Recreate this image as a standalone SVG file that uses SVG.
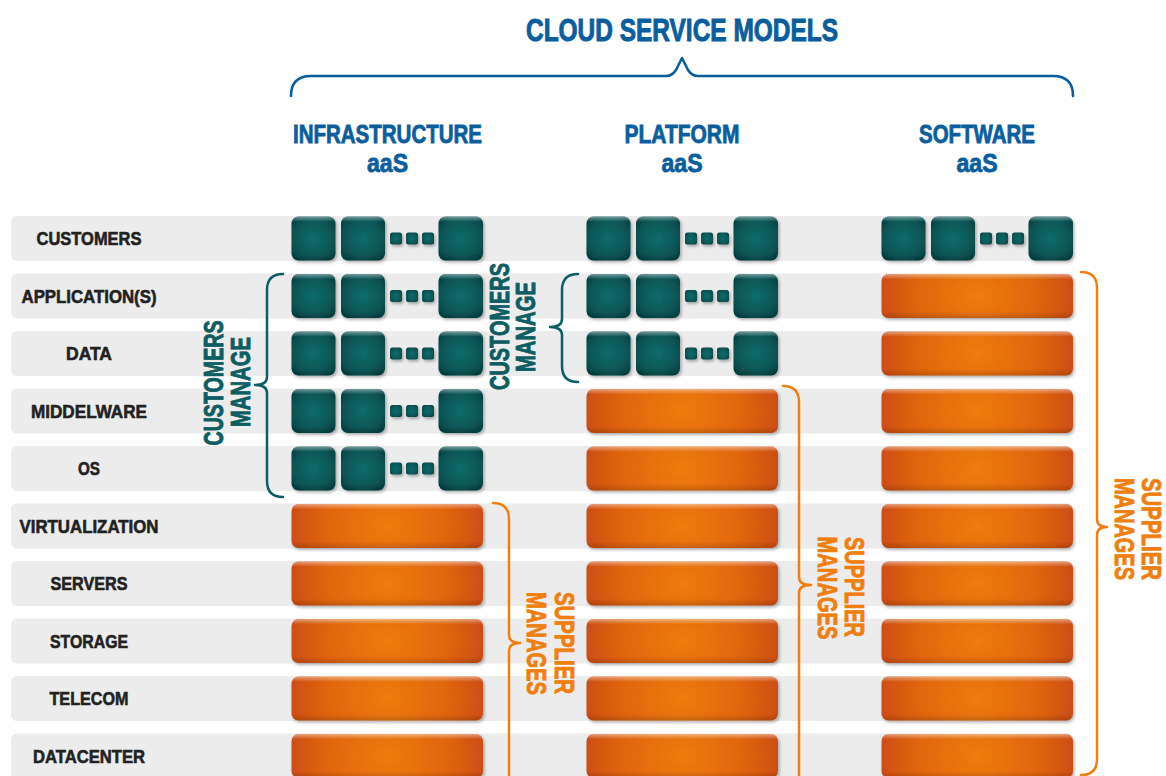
<svg xmlns="http://www.w3.org/2000/svg" xmlns:xlink="http://www.w3.org/1999/xlink" width="1166" height="776" viewBox="0 0 1166 776">
<style>
.band{fill:#ececec}
.lbl{font-family:"Liberation Sans",Arial,sans-serif;font-weight:bold;font-size:19px;fill:#222;stroke:#222;stroke-width:0.6;text-anchor:middle}
.hdr{font-family:"Liberation Sans",Arial,sans-serif;font-weight:bold;font-size:25px;fill:#0b5e9e;stroke:#0b5e9e;stroke-width:0.8;text-anchor:middle}
.title{font-family:"Liberation Sans",Arial,sans-serif;font-weight:bold;font-size:32px;fill:#0b5e9e;stroke:#0b5e9e;stroke-width:1;text-anchor:middle}
.tealtxt{font-family:"Liberation Sans",Arial,sans-serif;font-weight:bold;font-size:27px;fill:#0d5d63;stroke:#0d5d63;stroke-width:0.9;text-anchor:middle}
.orgtxt{font-family:"Liberation Sans",Arial,sans-serif;font-weight:bold;font-size:27px;fill:#f07f0f;stroke:#f07f0f;stroke-width:0.9;text-anchor:middle}
.bTeal{fill:none;stroke:#0d5d63;stroke-width:2.5;stroke-linejoin:round;stroke-linecap:round}
.bOrg{fill:none;stroke:#f07f0f;stroke-width:2.5;stroke-linejoin:round;stroke-linecap:round}
.bBlue{fill:none;stroke:#0b5e9e;stroke-width:2.6;stroke-linejoin:round;stroke-linecap:round}
</style>
<defs>
<radialGradient id="gTeal" cx="50%" cy="50%" r="60%">
<stop offset="0" stop-color="#0f6b6a"/>
<stop offset="0.7" stop-color="#0a5656"/>
<stop offset="1" stop-color="#054444"/>
</radialGradient>
<radialGradient id="gOrg" cx="50%" cy="50%" r="55%" gradientTransform="translate(0.5,0.5) scale(1,3.5) translate(-0.5,-0.5)">
<stop offset="0" stop-color="#ef7c0a"/>
<stop offset="0.6" stop-color="#e0640f"/>
<stop offset="1" stop-color="#c84814"/>
</radialGradient>
<linearGradient id="gHi" x1="0" y1="0" x2="0" y2="1">
<stop offset="0" stop-color="#fff" stop-opacity="0.45"/>
<stop offset="0.12" stop-color="#fff" stop-opacity="0"/>
<stop offset="0.85" stop-color="#000" stop-opacity="0"/>
<stop offset="1" stop-color="#000" stop-opacity="0.15"/>
</linearGradient>
<filter id="sh" x="-10%" y="-10%" width="130%" height="140%">
<feDropShadow dx="1.5" dy="2" stdDeviation="1.5" flood-color="#000" flood-opacity="0.3"/>
</filter>
<g id="tealCell" filter="url(#sh)">
<rect x="0.5" y="0.5" width="44" height="44" rx="7" fill="url(#gTeal)"/>
<rect x="0.5" y="0.5" width="44" height="44" rx="7" fill="url(#gHi)"/>
<rect x="50" y="0.5" width="44" height="44" rx="7" fill="url(#gTeal)"/>
<rect x="50" y="0.5" width="44" height="44" rx="7" fill="url(#gHi)"/>
<rect x="99" y="16.5" width="12" height="12" rx="2.5" fill="url(#gTeal)"/>
<rect x="115" y="16.5" width="12" height="12" rx="2.5" fill="url(#gTeal)"/>
<rect x="131" y="16.5" width="12" height="12" rx="2.5" fill="url(#gTeal)"/>
<rect x="147.5" y="0.5" width="44.5" height="44" rx="7" fill="url(#gTeal)"/>
<rect x="147.5" y="0.5" width="44.5" height="44" rx="7" fill="url(#gHi)"/>
</g>
<g id="orgCell" filter="url(#sh)">
<rect x="0.5" y="0.5" width="191.5" height="44" rx="7" fill="url(#gOrg)"/>
<rect x="0.5" y="0.5" width="191.5" height="44" rx="7" fill="url(#gHi)"/>
</g>
</defs>
<rect width="1166" height="776" fill="#fff"/>

<g id="title">
<text class="title" x="682" y="41" textLength="312" lengthAdjust="spacingAndGlyphs">CLOUD SERVICE MODELS</text>
</g>

<g id="bands">
<rect class="band" x="11" y="216" width="1062" height="45" rx="6"/>
<rect class="band" x="11" y="273.5" width="1062" height="45" rx="6"/>
<rect class="band" x="11" y="331" width="1062" height="45" rx="6"/>
<rect class="band" x="11" y="388.5" width="1062" height="45" rx="6"/>
<rect class="band" x="11" y="446" width="1062" height="45" rx="6"/>
<rect class="band" x="11" y="503.5" width="1062" height="45" rx="6"/>
<rect class="band" x="11" y="561" width="1062" height="45" rx="6"/>
<rect class="band" x="11" y="618.5" width="1062" height="45" rx="6"/>
<rect class="band" x="11" y="676" width="1062" height="45" rx="6"/>
<rect class="band" x="11" y="733.5" width="1062" height="45" rx="6"/>
</g>

<g id="row-labels">
<text class="lbl" x="89" y="245" textLength="105" lengthAdjust="spacingAndGlyphs">CUSTOMERS</text>
<text class="lbl" x="89" y="302.5" textLength="135" lengthAdjust="spacingAndGlyphs">APPLICATION(S)</text>
<text class="lbl" x="89" y="360" textLength="46" lengthAdjust="spacingAndGlyphs">DATA</text>
<text class="lbl" x="89" y="417.5" textLength="116" lengthAdjust="spacingAndGlyphs">MIDDELWARE</text>
<text class="lbl" x="89" y="475" textLength="22" lengthAdjust="spacingAndGlyphs">OS</text>
<text class="lbl" x="89" y="532.5" textLength="139" lengthAdjust="spacingAndGlyphs">VIRTUALIZATION</text>
<text class="lbl" x="89" y="590" textLength="77" lengthAdjust="spacingAndGlyphs">SERVERS</text>
<text class="lbl" x="89" y="647.5" textLength="78" lengthAdjust="spacingAndGlyphs">STORAGE</text>
<text class="lbl" x="89" y="705" textLength="79" lengthAdjust="spacingAndGlyphs">TELECOM</text>
<text class="lbl" x="89" y="762.5" textLength="112" lengthAdjust="spacingAndGlyphs">DATACENTER</text>
</g>

<g id="col-iaas">
<text class="hdr" x="387.5" y="143" textLength="189" lengthAdjust="spacingAndGlyphs">INFRASTRUCTURE</text>
<text class="hdr" x="387.5" y="172" textLength="41" lengthAdjust="spacingAndGlyphs">aaS</text>
<use href="#tealCell" x="291" y="216"/>
<use href="#tealCell" x="291" y="273.5"/>
<use href="#tealCell" x="291" y="331"/>
<use href="#tealCell" x="291" y="388.5"/>
<use href="#tealCell" x="291" y="446"/>
<use href="#orgCell" x="291" y="503.5"/>
<use href="#orgCell" x="291" y="561"/>
<use href="#orgCell" x="291" y="618.5"/>
<use href="#orgCell" x="291" y="676"/>
<use href="#orgCell" x="291" y="733.5"/>
</g>

<g id="col-paas">
<text class="hdr" x="682" y="143" textLength="115" lengthAdjust="spacingAndGlyphs">PLATFORM</text>
<text class="hdr" x="682" y="172" textLength="41" lengthAdjust="spacingAndGlyphs">aaS</text>
<use href="#tealCell" x="586" y="216"/>
<use href="#tealCell" x="586" y="273.5"/>
<use href="#tealCell" x="586" y="331"/>
<use href="#orgCell" x="586" y="388.5"/>
<use href="#orgCell" x="586" y="446"/>
<use href="#orgCell" x="586" y="503.5"/>
<use href="#orgCell" x="586" y="561"/>
<use href="#orgCell" x="586" y="618.5"/>
<use href="#orgCell" x="586" y="676"/>
<use href="#orgCell" x="586" y="733.5"/>
</g>

<g id="col-saas">
<text class="hdr" x="977" y="143" textLength="116" lengthAdjust="spacingAndGlyphs">SOFTWARE</text>
<text class="hdr" x="977" y="172" textLength="41" lengthAdjust="spacingAndGlyphs">aaS</text>
<use href="#tealCell" x="881" y="216"/>
<use href="#orgCell" x="881" y="273.5"/>
<use href="#orgCell" x="881" y="331"/>
<use href="#orgCell" x="881" y="388.5"/>
<use href="#orgCell" x="881" y="446"/>
<use href="#orgCell" x="881" y="503.5"/>
<use href="#orgCell" x="881" y="561"/>
<use href="#orgCell" x="881" y="618.5"/>
<use href="#orgCell" x="881" y="676"/>
<use href="#orgCell" x="881" y="733.5"/>
</g>

<g id="connectors">
<path class="bBlue" d="M291,96 Q291,76 311,76 L666,76 Q672,76 676,70 L682,58 L688,70 Q692,76 698,76 L1053,76 Q1073,76 1073,96"/>
<path class="bTeal" d="M283,274 Q267,274 267,290 L267,377 Q267,385 255,385 Q267,385 267,393 L267,481 Q267,497 283,497"/>
<path class="bTeal" d="M578,274 Q562,274 562,290 L562,319 Q562,327 550,327 Q562,327 562,335 L562,366 Q562,382 578,382"/>
<path class="bOrg" d="M493,503 Q509,503 509,519 L509,635 Q509,643 520,643 Q509,643 509,651 L509,790"/>
<path class="bOrg" d="M783,386 Q799,386 799,402 L799,577 Q799,585 811,585 Q799,585 799,593 L799,790"/>
<path class="bOrg" d="M1081,272 Q1097,272 1097,288 L1097,519 Q1097,527 1107,527 Q1097,527 1097,535 L1097,759 Q1097,775 1081,775"/>
</g>

<g id="label-iaas-customers">
<text class="tealtxt" transform="translate(223,383) rotate(-90)" textLength="125" lengthAdjust="spacingAndGlyphs">CUSTOMERS</text>
<text class="tealtxt" transform="translate(250,382) rotate(-90)" textLength="90" lengthAdjust="spacingAndGlyphs">MANAGE</text>
</g>
<g id="label-paas-customers">
<text class="tealtxt" transform="translate(509,326.5) rotate(-90)" textLength="127" lengthAdjust="spacingAndGlyphs">CUSTOMERS</text>
<text class="tealtxt" transform="translate(535,327) rotate(-90)" textLength="90" lengthAdjust="spacingAndGlyphs">MANAGE</text>
</g>
<g id="label-iaas-supplier">
<text class="orgtxt" transform="translate(555,643) rotate(90)" textLength="102" lengthAdjust="spacingAndGlyphs">SUPPLIER</text>
<text class="orgtxt" transform="translate(527,643.5) rotate(90)" textLength="103" lengthAdjust="spacingAndGlyphs">MANAGES</text>
</g>
<g id="label-paas-supplier">
<text class="orgtxt" transform="translate(845,587) rotate(90)" textLength="100" lengthAdjust="spacingAndGlyphs">SUPPLIER</text>
<text class="orgtxt" transform="translate(818,588) rotate(90)" textLength="103" lengthAdjust="spacingAndGlyphs">MANAGES</text>
</g>
<g id="label-saas-supplier">
<text class="orgtxt" transform="translate(1142,529) rotate(90)" textLength="102" lengthAdjust="spacingAndGlyphs">SUPPLIER</text>
<text class="orgtxt" transform="translate(1115,529) rotate(90)" textLength="102" lengthAdjust="spacingAndGlyphs">MANAGES</text>
</g>
</svg>
